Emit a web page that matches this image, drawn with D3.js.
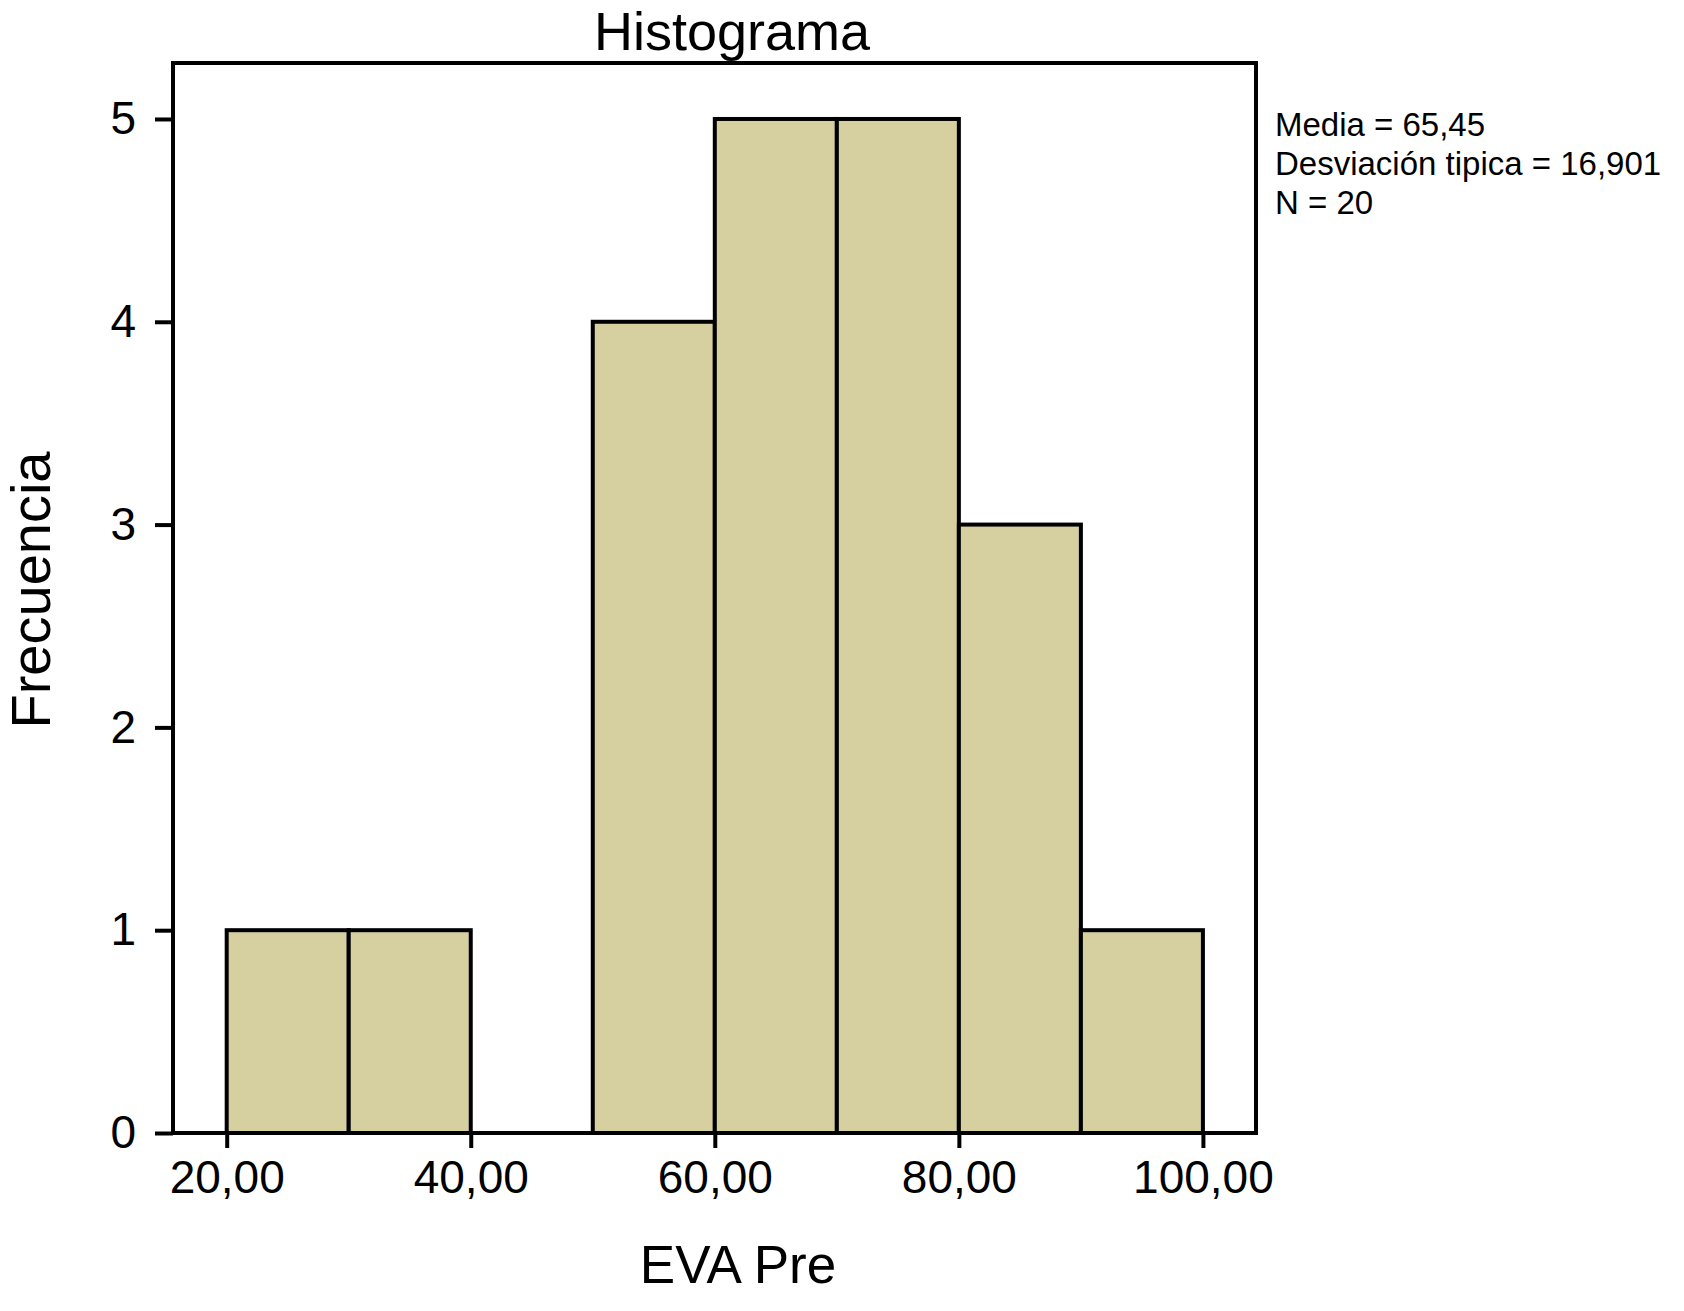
<!DOCTYPE html>
<html>
<head>
<meta charset="utf-8">
<script src="https://cdn.jsdelivr.net/npm/d3@7"></script>
<style>
  body { margin: 0; background: #fff; }
  text { font-family: "Liberation Sans", Arial, sans-serif; fill: #000; }
</style>
</head>
<body>
<div id="chart"></div>
<script>
// histogram bins (EVA Pre) and counts
const binStart = [20, 30, 40, 50, 60, 70, 80, 90];
const binEnd   = [30, 40, 50, 60, 70, 80, 90, 100];
const counts   = [1, 1, 0, 4, 5, 5, 3, 1];
const xTicks = [20, 40, 60, 80, 100];
const yTicks = [0, 1, 2, 3, 4, 5];
const stats = ["Media = 65,45", "Desviación tipica = 16,901", "N = 20"];

const W = 1684, H = 1311;
const margin = {top: 63, left: 173, right: 428, bottom: 178};
const w = W - margin.left - margin.right,
      h = H - margin.top - margin.bottom;

const svg = d3.select("#chart").append("svg")
  .attr("width", W).attr("height", H);
const g = svg.append("g")
  .attr("transform", `translate(${margin.left},${margin.top})`);

const x = d3.scaleLinear().domain([15.6, 104.35]).range([0, w]);
const y = d3.scaleLinear().domain([0, 5.276]).range([h, 0]);

const bins = binStart.map((s, i) => ({x0: s, x1: binEnd[i], n: counts[i]}));

g.selectAll("rect.bar")
  .data(bins.filter(d => d.n > 0)).enter()
  .append("rect")
  .attr("class", "bar")
  .attr("x", d => x(d.x0))
  .attr("width", d => x(d.x1) - x(d.x0))
  .attr("y", d => y(d.n))
  .attr("height", d => y(0) - y(d.n))
  .attr("fill", "#d6cfa0")
  .attr("stroke", "#000")
  .attr("stroke-width", 4);

// frame
g.append("rect")
  .attr("width", w).attr("height", h)
  .attr("fill", "none")
  .attr("stroke", "#000")
  .attr("stroke-width", 4);

const fmt = d => d.toFixed(2).replace(".", ",");

const xa = g.append("g")
  .attr("transform", `translate(0,${h})`)
  .call(d3.axisBottom(x).tickValues(xTicks).tickFormat(fmt).tickSize(15).tickPadding(12));
const ya = g.append("g")
  .call(d3.axisLeft(y).tickValues(yTicks).tickFormat(d3.format("d")).tickSize(18).tickPadding(19));

[xa, ya].forEach(a => {
  a.select(".domain").remove();
  a.selectAll("line").attr("stroke", "#000").attr("stroke-width", 4);
  a.selectAll("text").attr("font-size", 46).attr("font-family", "Liberation Sans, Arial, sans-serif").attr("fill", "#000");
});

svg.append("text")
  .attr("x", 732).attr("y", 50)
  .attr("text-anchor", "middle")
  .attr("font-size", 54)
  .text("Histograma");

svg.append("text")
  .attr("x", 738).attr("y", 1283)
  .attr("text-anchor", "middle")
  .attr("font-size", 53)
  .text("EVA Pre");

svg.append("text")
  .attr("transform", "translate(50,590) rotate(-90)")
  .attr("text-anchor", "middle")
  .attr("font-size", 56)
  .text("Frecuencia");

svg.append("g").selectAll("text")
  .data(stats).enter()
  .append("text")
  .attr("x", 1275)
  .attr("y", (d, i) => 136 + i * 39)
  .attr("font-size", 33)
  .text(d => d);
</script>
</body>
</html>
